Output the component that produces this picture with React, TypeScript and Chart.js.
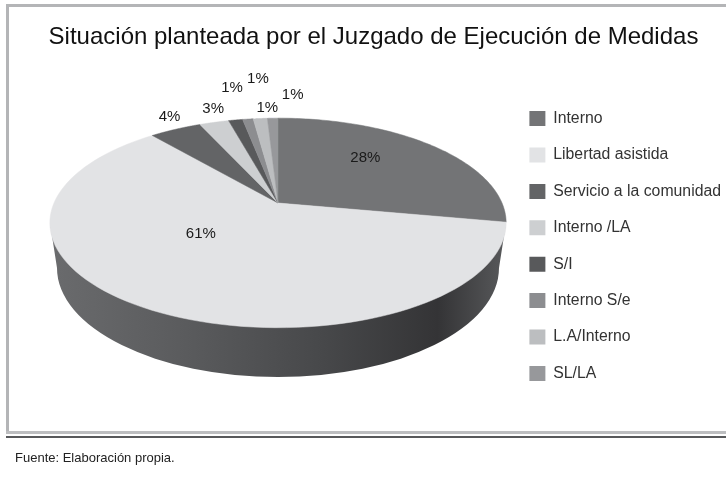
import React, { useEffect, useRef } from "react";
import { Chart, registerables } from "chart.js";

Chart.register(...registerables);

const categories = ["Interno", "Libertad asistida", "Servicio a la comunidad", "Interno /LA", "S/I", "Interno S/e", "L.A/Interno", "SL/LA"];
const shares = [27.9, 60.9, 4.4, 2.5, 1.2, 0.9, 1.2, 0.9];
const sliceColors = ["#737476", "#e2e3e5", "#636466", "#cdcfd1", "#58595b", "#8c8d90", "#bcbec0", "#97989b"];
// radial position on the pie, then a nudge in pixels, for each percentage label
const labelRadius = [0.6, 0.6, 1, 1, 1, 1, 1, 1];
const labelNudgeX = [-9, -2, -6, -1, -3.5, 10, 7, 20];
const labelNudgeY = [-9, -27, -12.5, -13.5, -32, -40, -10.5, -23];

const FONT = '"Liberation Sans", Arial, sans-serif';
const view = { cx: 278, cy: 203, a: 224, b: 101, k: -0.19 };
const wall = { rx: 221, ry: 109, cy: 268, topY: 223, topRx: 228 };

const project = (u: number, v: number): [number, number] => {
  const w = 1 + view.k * v;
  return [view.cx + (view.a * u) / w, view.cy + (view.b * v) / w];
};

const pie3d = {
  id: "pie3d",
  beforeDraw(chart: any) {
    const { ctx, width } = chart;
    ctx.save();
    ctx.fillStyle = "#ffffff";
    ctx.fillRect(0, 0, width, chart.height);
    ctx.fillStyle = "#b4b5b7";
    ctx.fillRect(6, 4, width - 6, 3);
    ctx.fillRect(6, 4, 3, 429);
    ctx.fillStyle = "#bdbec0";
    ctx.fillRect(6, 431, width - 6, 3);
    ctx.fillStyle = "#58595b";
    ctx.fillRect(6, 436, width - 6, 2);
    ctx.restore();
  },
  beforeDatasetDraw(chart: any) {
    const { ctx } = chart;
    const arcs = chart.getDatasetMeta(0).data;
    ctx.save();
    // side wall
    const g = ctx.createLinearGradient(view.cx - wall.topRx, 0, view.cx + wall.topRx, 0);
    g.addColorStop(0, "#6a6b6d");
    g.addColorStop(0.3, "#5a5b5d");
    g.addColorStop(0.6, "#47484a");
    g.addColorStop(0.85, "#343436");
    g.addColorStop(1, "#58595b");
    ctx.fillStyle = g;
    ctx.beginPath();
    ctx.moveTo(view.cx - wall.topRx, wall.topY);
    ctx.lineTo(view.cx - wall.rx, wall.cy);
    ctx.ellipse(view.cx, wall.cy, wall.rx, wall.ry, 0, Math.PI, 0, true);
    ctx.lineTo(view.cx + wall.topRx, wall.topY);
    ctx.closePath();
    ctx.fill();
    // top face
    arcs.forEach((arc: any) => {
      ctx.beginPath();
      ctx.moveTo(view.cx, view.cy);
      const steps = 96;
      for (let i = 0; i <= steps; i++) {
        const t = arc.startAngle + ((arc.endAngle - arc.startAngle) * i) / steps;
        const [x, y] = project(Math.cos(t), Math.sin(t));
        ctx.lineTo(x, y);
      }
      ctx.closePath();
      ctx.fillStyle = arc.options.backgroundColor;
      ctx.strokeStyle = arc.options.backgroundColor;
      ctx.lineWidth = 0.5;
      ctx.fill();
      ctx.stroke();
    });
    ctx.restore();
    return false;
  },
  afterDatasetsDraw(chart: any) {
    const { ctx } = chart;
    const arcs = chart.getDatasetMeta(0).data;
    ctx.save();
    ctx.fillStyle = "#1a1a1a";
    ctx.font = `15px ${FONT}`;
    ctx.textAlign = "center";
    ctx.textBaseline = "middle";
    arcs.forEach((arc: any, i: number) => {
      const mid = (arc.startAngle + arc.endAngle) / 2;
      const r = labelRadius[i];
      const [x, y] = project(r * Math.cos(mid), r * Math.sin(mid));
      ctx.fillText(`${Math.round(shares[i])}%`, x + labelNudgeX[i], y + labelNudgeY[i]);
    });
    ctx.restore();
  },
};

export default function App() {
  const ref = useRef<HTMLCanvasElement>(null);
  useEffect(() => {
    const chart = new Chart(ref.current!, {
      type: "pie",
      data: {
        labels: categories,
        datasets: [{ data: shares, backgroundColor: sliceColors, borderWidth: 0 }],
      },
      options: {
        animation: false,
        responsive: false,
        layout: { padding: { left: 16, right: -5, top: 23, bottom: 11 } },
        plugins: {
          title: {
            display: true,
            text: "Situación planteada por el Juzgado de Ejecución de Medidas",
            color: "#111111",
            font: { family: FONT, size: 24, weight: "normal" },
            padding: { top: 0, bottom: 10 },
          },
          legend: {
            position: "right",
            labels: {
              color: "#333333",
              font: { family: FONT, size: 15.8 },
              boxWidth: 16,
              boxHeight: 15,
              padding: 20.6,
            },
          },
          tooltip: { enabled: false },
        },
      },
      plugins: [pie3d],
    } as any);
    return () => chart.destroy();
  }, []);
  return (
    <div style={{ position: "fixed", left: 0, top: 0, width: 726, height: 480, background: "#fff" }}>
      <canvas ref={ref} width={726} height={480} style={{ display: "block" }} />
      <div style={{ position: "absolute", left: 15, top: 450, font: `13px ${FONT}`, color: "#222" }}>
        Fuente: Elaboración propia.
      </div>
    </div>
  );
}
